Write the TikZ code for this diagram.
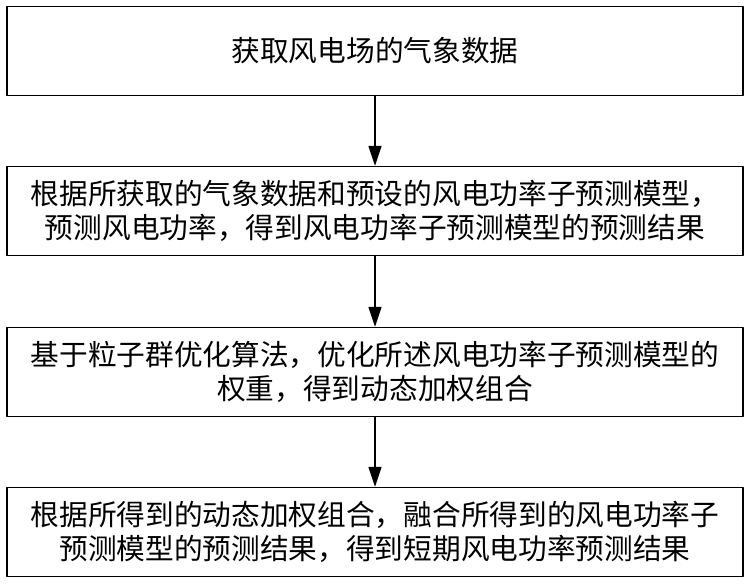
\documentclass[tikz,border=0pt]{standalone}
\usepackage{fontspec}
\newfontfamily\cjk{Noto Sans CJK SC}
\usepackage{tikz}
\usetikzlibrary{positioning,arrows.meta}

\begin{document}
\begin{tikzpicture}[x=1pt,y=-1pt, line cap=round, line join=round]
	\useasboundingbox (0,0) rectangle (750,584);
	
	% ===== style khung =====
	\tikzset{buoc/.style={draw=black, line width=1.4pt, minimum width=736pt, minimum height=89pt,
			inner sep=0pt, align=center, font=\cjk\fontsize{28.7}{33.5}\selectfont},
		muiten/.style={line width=1.4pt, -{Triangle[width=13pt,length=20pt]}}}
	
	% ===== các khung =====
	\node[buoc] (b1) at (375,51) {获取风电场的气象数据};
	\node[buoc] (b2) at (375,211) {根据所获取的气象数据和预设的风电功率子预测模型，\\预测风电功率，得到风电功率子预测模型的预测结果};
	\node[buoc] (b3) at (375,372) {基于粒子群优化算法，优化所述风电功率子预测模型的\\权重，得到动态加权组合};
	\node[buoc] (b4) at (375,532) {根据所得到的动态加权组合，融合所得到的风电功率子\\预测模型的预测结果，得到短期风电功率预测结果};
	
	% ===== mũi tên =====
	\foreach \a/\b in {b1/b2,b2/b3,b3/b4}{
		\draw[muiten] (\a.south) -- (\b.north);
	}
\end{tikzpicture}
\end{document}
